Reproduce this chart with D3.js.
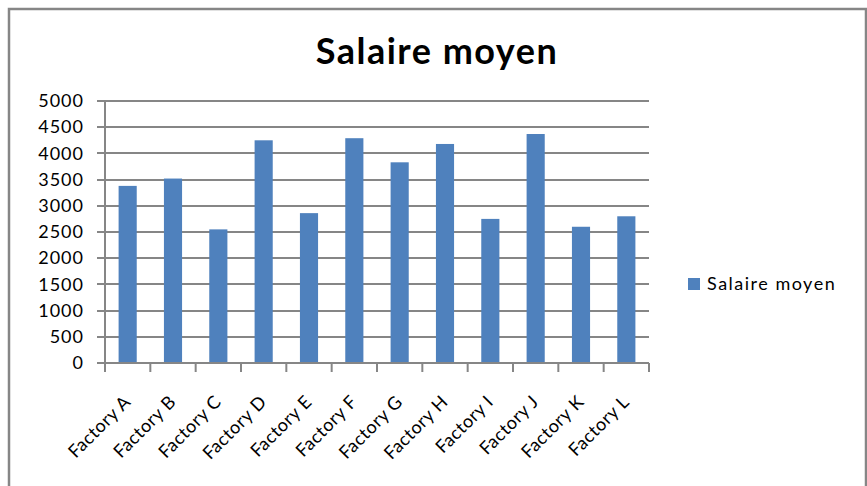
<!DOCTYPE html>
<html>
<head>
<meta charset="utf-8">
<script src="https://cdn.jsdelivr.net/npm/d3@7"></script>
<style>
  body { margin: 0; background: #fff; }
  svg text { font-family: Lato, "Open Sans", sans-serif; fill: #000; }
</style>
</head>
<body>
<div id="chart"></div>
<script>
var categories = ["Factory A", "Factory B", "Factory C", "Factory D", "Factory E", "Factory F",
                  "Factory G", "Factory H", "Factory I", "Factory J", "Factory K", "Factory L"];
var salaire = [3380, 3520, 2550, 4250, 2860, 4290, 3830, 4180, 2750, 4370, 2600, 2800];
var yTicks = [0, 500, 1000, 1500, 2000, 2500, 3000, 3500, 4000, 4500, 5000];
var seriesName = "Salaire moyen";

var width = 867,
    height = 486,
    margin = {left: 105, top: 101, right: 218, bottom: 123};

var svg = d3.select("#chart").append("svg")
    .attr("width", width)
    .attr("height", height);

// outer frame
svg.append("rect")
    .attr("x", 9).attr("y", 9)
    .attr("width", 857).attr("height", 490)
    .attr("fill", "none")
    .attr("stroke", "#868686")
    .attr("stroke-width", 2.5);

svg.append("text")
    .attr("x", 437)
    .attr("y", 64)
    .attr("text-anchor", "middle")
    .style("font-size", "36px")
    .style("font-weight", "bold")
    .style("letter-spacing", "1.5px")
    .text("Salaire moyen");

var x = d3.scaleBand()
    .domain(categories)
    .range([margin.left, width - margin.right])
    .paddingInner(0.6)
    .paddingOuter(0.3);

var xGrid = d3.scaleBand()
    .domain(categories)
    .range([margin.left, width - margin.right]);

var y = d3.scaleLinear()
    .domain([0, 5000])
    .range([height - margin.bottom, margin.top]);

// gridlines
svg.append("g")
    .selectAll("line")
    .data(yTicks)
    .enter()
    .append("line")
    .attr("x1", margin.left - 8)
    .attr("x2", width - margin.right)
    .attr("y1", d => Math.round(y(d)))
    .attr("y2", d => Math.round(y(d)))
    .attr("stroke", "#868686")
    .attr("stroke-width", 2);

// y axis
var yAxis = d3.axisLeft(y).tickValues(yTicks).tickFormat(d3.format("d")).tickSize(0).tickPadding(21);
var yg = svg.append("g")
    .attr("transform", "translate(" + margin.left + ",0)")
    .call(yAxis);
yg.select(".domain").remove();
yg.selectAll("text")
    .style("font-size", "18px")
    .style("letter-spacing", "1px");

svg.append("line")
    .attr("x1", margin.left).attr("x2", margin.left)
    .attr("y1", margin.top).attr("y2", height - margin.bottom)
    .attr("stroke", "#868686")
    .attr("stroke-width", 2);

// bars
svg.append("g")
    .selectAll("rect")
    .data(salaire)
    .enter()
    .append("rect")
    .attr("x", (d, i) => x(categories[i]))
    .attr("y", d => y(d))
    .attr("width", x.bandwidth())
    .attr("height", d => y(0) - y(d))
    .attr("fill", "#4f81bd");

// x axis ticks between categories
var bounds = categories.map(c => xGrid(c)).concat([width - margin.right]);
svg.append("g")
    .selectAll("line")
    .data(bounds)
    .enter()
    .append("line")
    .attr("x1", d => d).attr("x2", d => d)
    .attr("y1", y(0)).attr("y2", y(0) + 9)
    .attr("stroke", "#868686")
    .attr("stroke-width", 2);

svg.append("line")
    .attr("x1", margin.left).attr("x2", width - margin.right)
    .attr("y1", y(0)).attr("y2", y(0))
    .attr("stroke", "#868686")
    .attr("stroke-width", 2);

// category labels
svg.append("g")
    .selectAll("text")
    .data(categories)
    .enter()
    .append("text")
    .attr("transform", d => "translate(" + (xGrid(d) + xGrid.bandwidth() / 2 + 4) + "," + (y(0) + 40) + ") rotate(-45)")
    .attr("text-anchor", "end")
    .style("font-size", "18px")
    .style("letter-spacing", "0.5px")
    .text(d => d);

// legend
var legend = svg.append("g").attr("transform", "translate(688,278)");
legend.append("rect")
    .attr("width", 12).attr("height", 12)
    .attr("fill", "#4f81bd");
legend.append("text")
    .attr("x", 19).attr("y", 12)
    .style("font-size", "18px")
    .style("letter-spacing", "1.5px")
    .text(seriesName);
</script>
</body>
</html>
